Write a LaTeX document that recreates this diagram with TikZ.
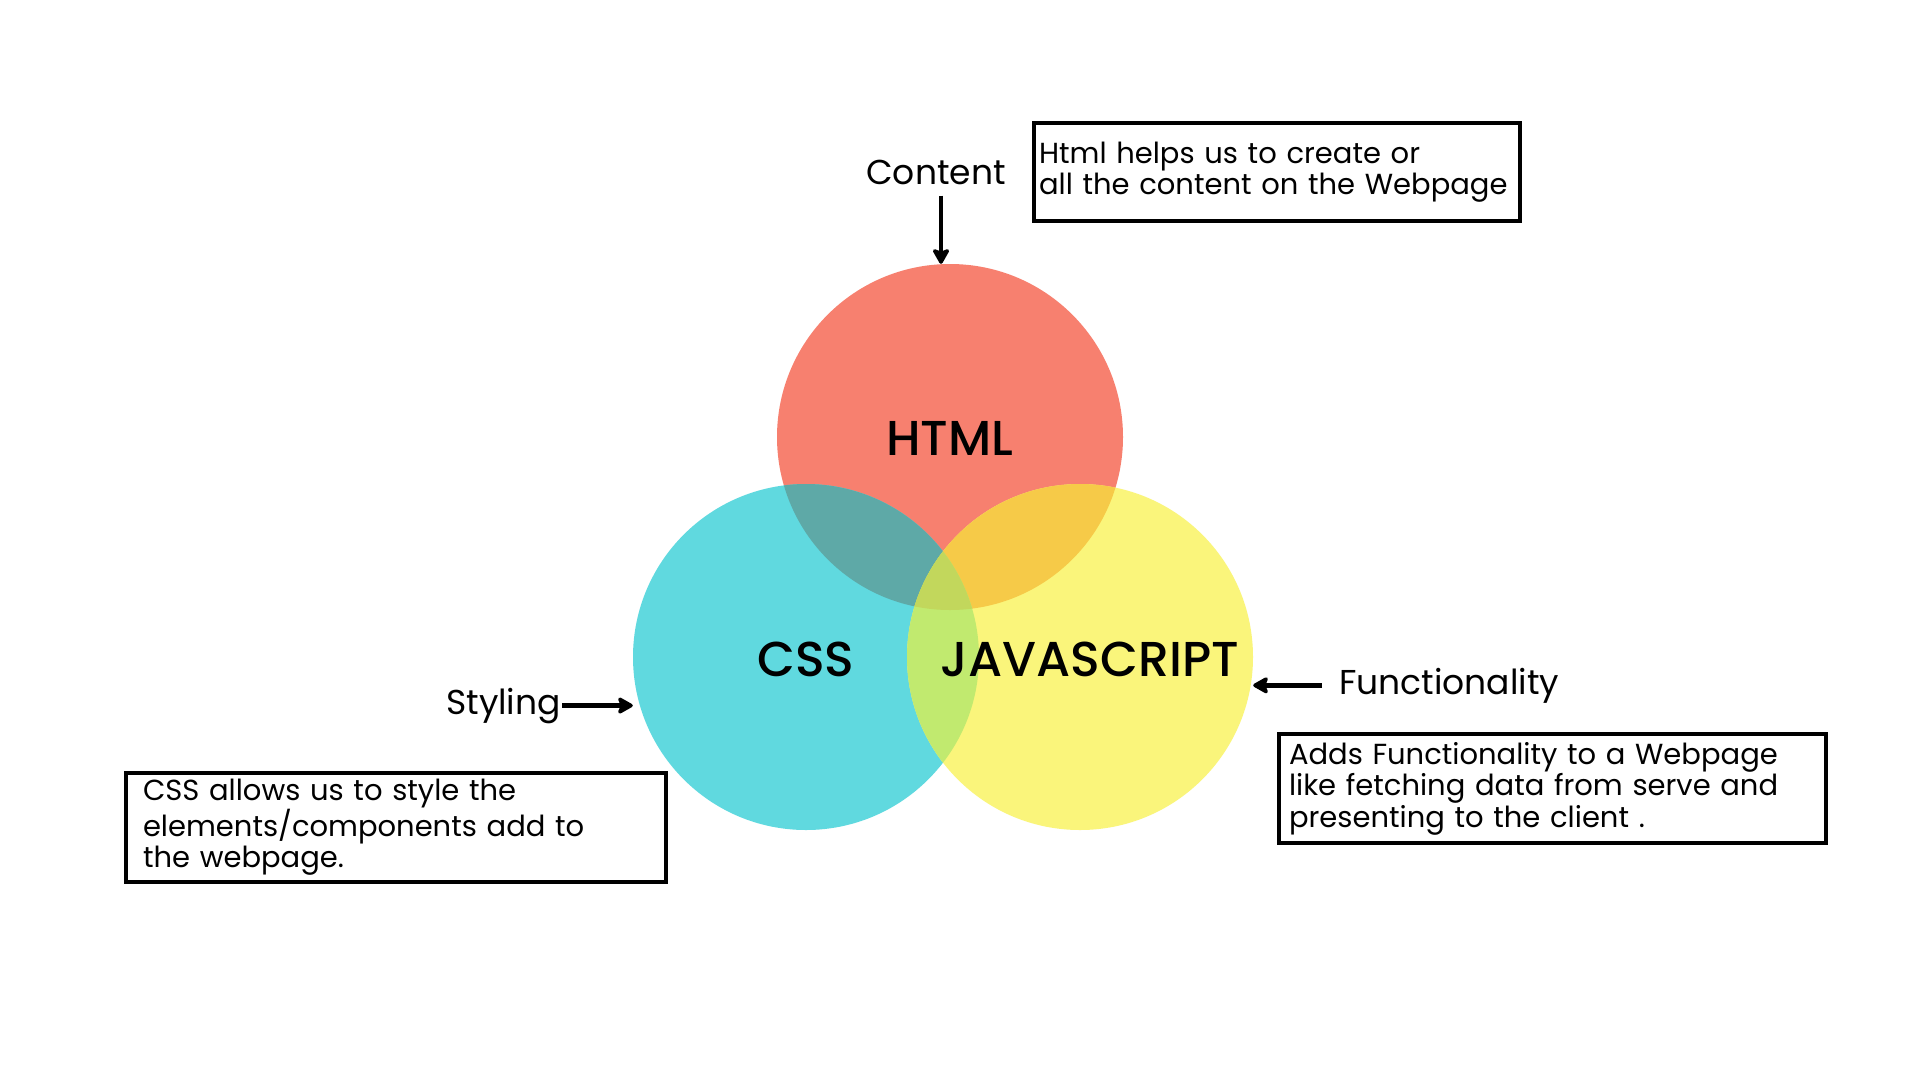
\documentclass[tikz,border=0pt]{standalone}
\usepackage{fontspec}
\setmainfont{Poppins}
\newfontfamily\lblfont{Poppins Medium}
\usetikzlibrary{arrows.meta}
\definecolor{htmlc}{HTML}{F7806F}
\definecolor{cssc}{HTML}{60D9DF}
\definecolor{jsc}{HTML}{FAF57B}
\definecolor{hcc}{HTML}{5EA9A7}
\definecolor{hjc}{HTML}{F6CA48}
\definecolor{cjc}{HTML}{C1EA6F}
\definecolor{hcjc}{HTML}{C2D75C}
\newcommand\nohyphens{\hyphenpenalty=10000 \exhyphenpenalty=10000 }
\begin{document}
\begin{tikzpicture}[x=1pt,y=-1pt,
  venn/.style={circle, minimum size=346pt, inner sep=0pt},
  lbl/.style={font=\lblfont\fontsize{49}{54}\selectfont, inner sep=0pt},
  tag/.style={font=\fontsize{34.5}{40}\selectfont, inner sep=1pt},
  infobox/.style={draw, line width=4pt, anchor=north west, align=left,
    font=\fontsize{29}{31.5}\selectfont, execute at begin node=\nohyphens, inner ysep=0pt},
  arr/.style={line width=4.5pt, -{Stealth[length=18pt,width=20pt,inset=4pt,round]}}]
\fill[white] (0,0) rectangle (1920,1080);
\useasboundingbox (0,0) rectangle (1920,1080);
% circles
\node[venn, fill=htmlc] (html) at (950,437) {};
\node[venn, fill=cssc] (css) at (806,657) {};
\node[venn, fill=jsc] (js) at (1080,657) {};
\begin{scope}
  \clip (html.center) circle (173pt);
  \fill[hcc] (css.center) circle (173pt);
\end{scope}
\begin{scope}
  \clip (html.center) circle (173pt);
  \fill[hjc] (js.center) circle (173pt);
\end{scope}
\begin{scope}
  \clip (css.center) circle (173pt);
  \fill[cjc] (js.center) circle (173pt);
\end{scope}
\begin{scope}
  \clip (html.center) circle (173pt);
  \clip (css.center) circle (173pt);
  \fill[hcjc] (js.center) circle (173pt);
\end{scope}
% circle labels
\node[lbl, anchor=base] (htmll) at (950,455) {HTML};
\node[lbl, anchor=base] (cssl) at (806,676) {CSS};
\node[lbl, anchor=base] (jsl) at (1090,676) {JAVASCRIPT};
% tags
\node[tag, anchor=base] (content) at (936,184) {Content};
\node[tag, anchor=base east] (styling) at (562,714) {Styling};
\node[tag, anchor=base west] (func) at (1338,694) {Functionality};
% arrow end points
\coordinate (cstart) at ([xshift=5pt,yshift=-10pt]content.south);
\coordinate (fstart) at ([xshift=-16pt]func.west);
% arrows
\draw[arr] (cstart) -- (cstart |- html.north);
\draw[arr] (styling.east) -- (styling.east -| css.west);
\draw[arr] (fstart) -- (fstart -| js.east);
% info boxes
\node[infobox, text width=476pt, inner xsep=5pt, minimum height=98pt] (hbox) at (1032,121)
  {Html helps us to create or\\all the content on the Webpage};
\node[infobox, text width=506pt, inner xsep=17pt, minimum height=109pt] (cbox) at (124,771)
  {CSS allows us to style the\\elements/components add to\\the webpage.};
\node[infobox, text width=527pt, inner xsep=10pt, minimum height=109pt] (jbox) at (1277,732)
  {Adds Functionality to a Webpage\\like fetching data from serve and\\presenting to the client .};
\end{tikzpicture}
\end{document}
